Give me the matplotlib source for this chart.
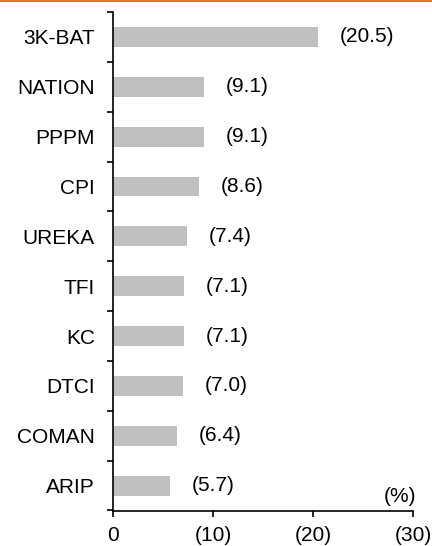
import matplotlib.pyplot as plt
import numpy as np

plt.rcParams['font.family'] = ['Liberation Sans', 'DejaVu Sans']

names = ["3K-BAT", "NATION", "PPPM", "CPI", "UREKA", "TFI", "KC", "DTCI", "COMAN", "ARIP"]
values = [20.5, 9.1, 9.1, 8.6, 7.4, 7.1, 7.1, 7.0, 6.4, 5.7]
xticks = [0, 10, 20, 30]
xtick_labels = ["0", "(10)", "(20)", "(30)"]

W, H = 432, 546
fs = 15
fig = plt.figure(figsize=(W / 100, H / 100), dpi=100)
ax = fig.add_axes([113 / W, (H - 510.5) / H, 300 / W, (510.5 - 12) / H])

# orange rule on top of the figure
fig.add_artist(plt.Line2D([0, 1], [1 - 0.8 / H, 1 - 0.8 / H], color="#E8601C", lw=1.3,
                          transform=fig.transFigure))

pos = np.arange(len(names))
ax.barh(pos, values, height=0.4, color="#C0C0C0")
for p, v in zip(pos, values):
    ax.annotate("(%.1f)" % v, (v, p), xytext=(16, 0), textcoords="offset points",
                va="center", ha="left", fontsize=fs)

ax.set_ylim(len(names) - 0.5, -0.5)
ax.set_xlim(0, 30)

# category boundaries get the tick marks, centres get the labels
ax.set_yticks(np.arange(len(names) + 1) - 0.5)
ax.set_yticklabels([])
ax.set_yticks(pos, minor=True)
ax.set_yticklabels(names, minor=True, fontsize=fs)
ax.tick_params(axis="y", which="major", length=4.3, width=1.2, direction="out")
ax.tick_params(axis="y", which="minor", length=0, pad=13)

ax.set_xticks(xticks)
ax.set_xticklabels(xtick_labels, fontsize=fs)
ax.tick_params(axis="x", length=4, width=1.2, direction="out", pad=7.5)

for s in ["top", "right"]:
    ax.spines[s].set_visible(False)
for s in ["left", "bottom"]:
    ax.spines[s].set_linewidth(1.2)

ax.text(30.3, 9.4, "(%)", ha="right", va="bottom", fontsize=fs)

fig.savefig("out.png", dpi=100)
